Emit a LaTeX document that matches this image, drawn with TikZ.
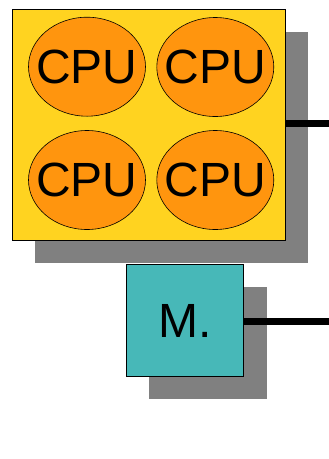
\documentclass[tikz,border=0pt]{standalone}
\usepackage{fontspec}
\setmainfont{Liberation Sans}
\usetikzlibrary{shapes.geometric,positioning}

\definecolor{chipyellow}{HTML}{FFD320}
\definecolor{cpuorange}{HTML}{FF950E}
\definecolor{memteal}{HTML}{47B8B8}
\definecolor{shadowgray}{HTML}{808080}

\begin{document}
\begin{tikzpicture}[
    x=1pt, y=-1pt,
    big/.style={font=\fontsize{48}{52}\selectfont},
    box/.style={rectangle, draw, line width=0.8pt, inner sep=0pt},
    chip/.style={box, fill=chipyellow, minimum width=272.5pt, minimum height=230.5pt},
    cpu/.style={ellipse, draw, line width=0.6pt, fill=cpuorange, inner sep=0pt,
        minimum width=117pt, minimum height=99pt,
        label={[big, inner sep=0pt]center:#1}},
    mem/.style={box, big, fill=memteal, minimum width=117pt, minimum height=112pt},
    shade/.style={fill=shadowgray},
    bus/.style={line width=7pt}
]
\useasboundingbox (0,0) rectangle (329,459);

% Shadows
\fill[shade] (35,32) rectangle (308,263);
\fill[shade] (148.5,287) rectangle (266.5,399);

% Chip with four CPUs
\node[chip] (chip) at (148.75,124.75) {};
\node[cpu=CPU] (cpu1) at (87,66.7) {};
\node[cpu=CPU] (cpu2) at (215.3,67) {};
\node[cpu=CPU] (cpu3) at (87,180) {};
\node[cpu=CPU] (cpu4) at (215.3,180) {};

% Memory
\node[mem] (memory) at (184.7,320.7) {M.};

% Buses
\coordinate (chipbus) at (329,123);
\coordinate (membus) at (329,321.5);
\draw[bus] (chip.east |- chipbus) -- (chipbus);
\draw[bus] (memory.east |- membus) -- (membus);

\end{tikzpicture}
\end{document}
